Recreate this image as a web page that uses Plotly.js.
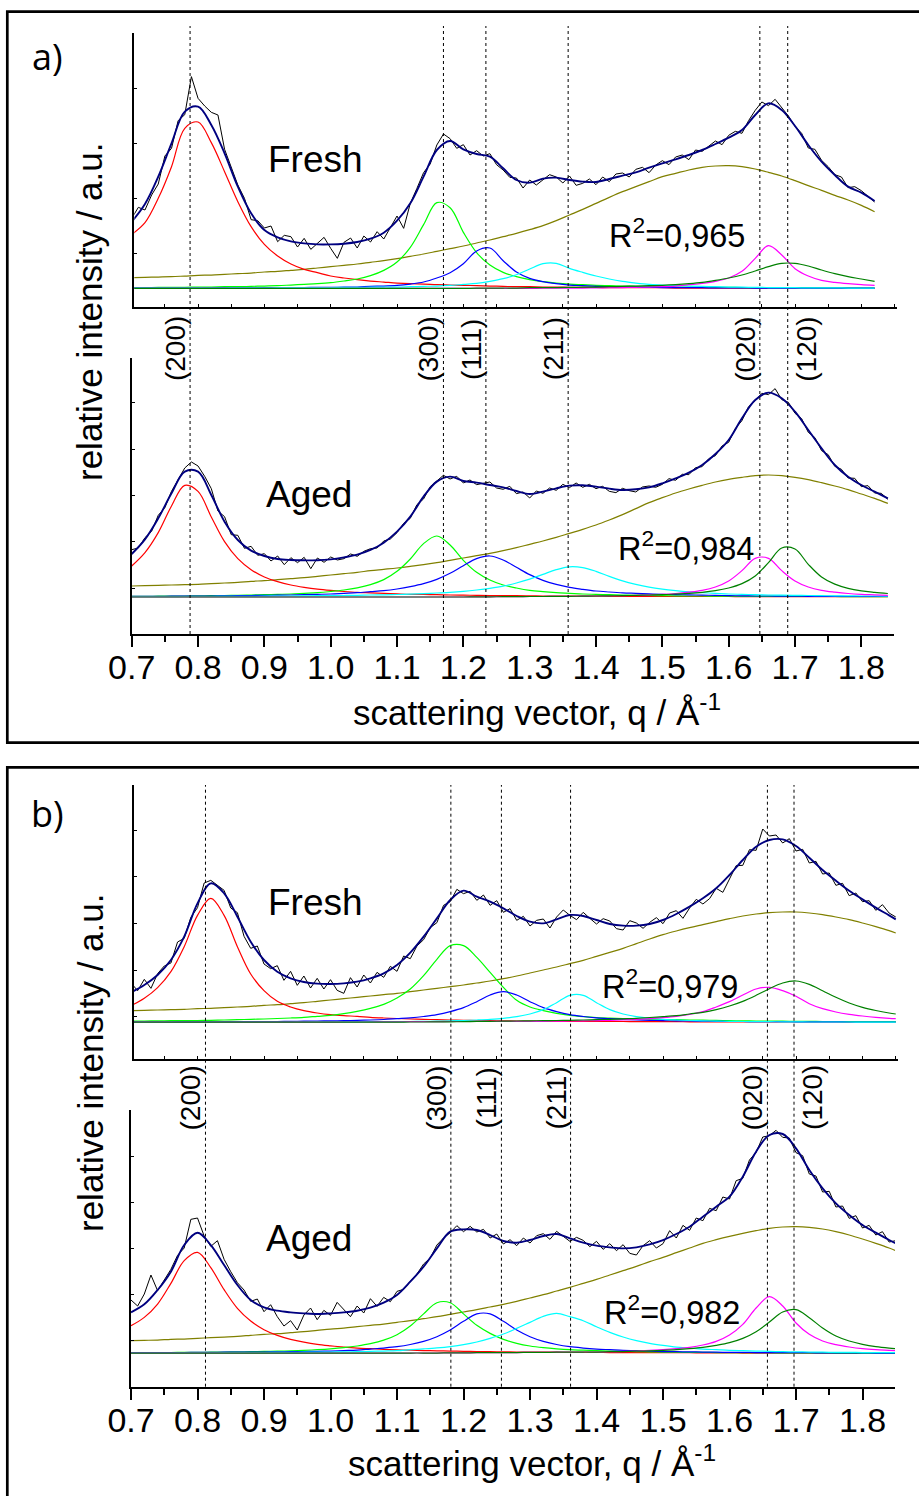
<!DOCTYPE html>
<html><head><meta charset="utf-8">
<script src="https://cdn.plot.ly/plotly-3.0.1.min.js"></script>
<style>html,body{margin:0;padding:0;background:#fff;}#chart{width:919px;height:1496px;}</style>
</head><body><div id="chart"></div>
<script>
// ---------- x grids ----------
const Q_FIT = [0.70,0.72,0.74,0.76,0.78,0.80,0.82,0.84,0.86,0.88,0.90,0.92,0.94,0.96,0.98,1.00,1.02,1.04,1.06,1.08,1.10,1.12,1.14,1.16,1.18,1.20,1.22,1.24,1.26,1.28,1.30,1.32,1.34,1.36,1.38,1.40,1.42,1.44,1.46,1.48,1.50,1.52,1.54,1.56,1.58,1.60,1.62,1.64,1.66,1.68,1.70,1.72,1.74,1.76,1.78,1.80,1.82,1.84,1.85];
const Q_DATA = [0.70,0.71,0.72,0.73,0.74,0.75,0.76,0.77,0.78,0.79,0.80,0.81,0.82,0.83,0.84,0.85,0.86,0.87,0.88,0.89,0.90,0.91,0.92,0.93,0.94,0.95,0.96,0.97,0.98,0.99,1.00,1.01,1.02,1.03,1.04,1.05,1.06,1.07,1.08,1.09,1.10,1.11,1.12,1.13,1.14,1.15,1.16,1.17,1.18,1.19,1.20,1.21,1.22,1.23,1.24,1.25,1.26,1.27,1.28,1.29,1.30,1.31,1.32,1.33,1.34,1.35,1.36,1.37,1.38,1.39,1.40,1.41,1.42,1.43,1.44,1.45,1.46,1.47,1.48,1.49,1.50,1.51,1.52,1.53,1.54,1.55,1.56,1.57,1.58,1.59,1.60,1.61,1.62,1.63,1.64,1.65,1.66,1.67,1.68,1.69,1.70,1.71,1.72,1.73,1.74,1.75,1.76,1.77,1.78,1.79,1.80,1.81,1.82,1.83,1.84,1.85];

// ---------- panel a, Fresh ----------
const aFreshData = [26.5,29.8,29.0,33.5,36.8,45.2,47.5,55.8,57.6,69.0,
62.5,60.2,58.3,57.5,47.2,41.8,36.5,32.5,26.1,25.8,
23.6,24.2,19.5,21.4,21.0,17.9,20.5,17.2,19.1,20.8,
17.5,14.5,19.3,20.6,17.6,21.2,19.4,22.5,20.3,23.8,
27.2,23.5,31.0,35.5,40.2,42.8,48.5,51.8,50.4,47.5,
48.6,45.5,46.8,45.2,45.9,42.6,41.0,38.8,38.6,35.6,
38.0,36.5,38.1,39.6,38.9,37.1,39.2,36.4,37.0,38.3,
36.6,38.9,37.5,39.8,40.1,38.9,41.2,41.8,40.2,42.5,
43.8,42.6,44.9,45.5,44.1,47.0,46.6,48.2,49.7,48.6,
51.4,52.6,52.0,55.8,58.9,61.4,60.3,62.2,59.6,57.2,
54.1,52.0,47.6,47.2,43.9,42.0,39.6,38.9,35.7,36.0,
34.8,33.1,31.4];
const aFreshFit = [25.5,30.8,39.0,49.0,58.5,60.0,54.5,46.0,36.0,28.0,
23.0,20.8,19.6,19.0,18.7,18.7,18.9,19.4,20.4,22.2,
25.8,31.0,39.0,47.0,49.7,47.2,45.8,45.0,41.5,38.0,
37.2,38.4,38.7,38.0,37.5,37.4,38.3,39.3,40.3,41.7,
43.0,44.2,45.5,47.0,48.8,50.7,53.0,57.5,61.0,59.0,
54.2,48.5,43.5,39.5,36.0,34.2,31.7];
const aFreshRed = [21.7,25.2,32.5,42.0,53.5,55.4,49.2,40.5,31.5,24.0,
18.7,15.2,12.8,11.2,10.2,9.2,8.6,8.1,7.7,7.4,
7.1,6.9,6.8,6.6,6.5,6.4,6.3,6.2,6.1,6.0,
6.0,5.9,5.9,5.8,5.8,5.8,5.7,5.7,5.7,5.7,
5.7,5.6,5.6,5.6,5.6,5.6,5.6,5.6,5.6,5.6,
5.6,5.6,5.6,5.6,5.6,5.6,5.6];
const aFreshGreen = [5.7,5.7,5.8,5.8,5.8,5.9,5.9,6.0,6.0,6.1,
6.2,6.3,6.5,6.7,6.9,7.2,7.7,8.3,9.3,10.9,
13.4,17.8,24.6,31.2,29.7,22.3,16.2,12.5,10.3,9.0,
8.1,7.5,7.1,6.8,6.6,6.4,6.3,6.2,6.1,6.0,
5.95,5.9,5.9,5.85,5.8,5.8,5.75,5.75,5.7,5.7,
5.7,5.7,5.65,5.65,5.6,5.6,5.6];
const aFreshBlue = [5.6,5.6,5.6,5.6,5.6,5.6,5.6,5.65,5.65,5.65,
5.7,5.7,5.75,5.75,5.8,5.8,5.85,5.9,6.1,6.2,
6.4,6.8,7.4,8.6,10.2,12.9,16.7,17.6,13.8,10.4,
8.5,7.5,6.9,6.5,6.3,6.1,6.0,5.9,5.85,5.8,
5.75,5.7,5.7,5.7,5.65,5.65,5.65,5.6,5.6,5.6,
5.6,5.6,5.6,5.6,5.6,5.6,5.6];
const aFreshCyan = [5.6,5.6,5.6,5.6,5.6,5.6,5.6,5.6,5.65,5.65,
5.65,5.7,5.7,5.7,5.75,5.75,5.8,5.8,5.85,5.9,
5.9,6.0,6.1,6.2,6.4,6.7,7.0,7.6,8.4,9.6,
11.3,12.9,13.0,11.5,10.3,9.2,8.3,7.6,7.1,6.7,
6.5,6.3,6.2,6.1,6.0,5.9,5.85,5.8,5.75,5.7,
5.7,5.65,5.65,5.65,5.6,5.6,5.6];
const aFreshMagenta = [5.5,5.5,5.5,5.5,5.5,5.5,5.5,5.5,5.5,5.5,
5.5,5.5,5.5,5.5,5.5,5.5,5.5,5.5,5.5,5.5,
5.5,5.5,5.5,5.5,5.5,5.5,5.5,5.5,5.5,5.5,
5.5,5.55,5.55,5.6,5.6,5.65,5.7,5.75,5.8,5.9,
6.0,6.2,6.6,7.0,7.6,8.6,10.6,14.5,18.3,15.5,
11.4,9.2,7.9,7.3,6.9,6.6,6.4];
const aFreshDkGreen = [5.5,5.5,5.5,5.5,5.5,5.5,5.5,5.5,5.5,5.5,
5.5,5.5,5.5,5.5,5.5,5.5,5.5,5.5,5.5,5.5,
5.5,5.5,5.5,5.5,5.5,5.5,5.55,5.55,5.6,5.6,
5.7,5.7,5.75,5.8,5.85,5.9,6.0,6.1,6.2,6.3,
6.4,6.6,6.9,7.3,7.9,8.6,9.5,10.7,12.0,13.0,
13.0,12.2,11.0,9.9,9.0,8.3,7.6];
const aFreshOlive = [8.7,8.8,8.9,9.0,9.2,9.4,9.5,9.7,9.9,10.1,
10.4,10.6,10.9,11.2,11.6,12.0,12.4,12.8,13.3,13.8,
14.4,15.1,15.8,16.6,17.4,18.2,19.1,20.0,21.0,22.0,
23.1,24.3,25.8,27.5,29.2,31.0,32.8,34.5,36.0,37.5,
39.0,40.0,41.0,41.8,42.2,42.3,42.0,41.3,40.3,39.2,
37.8,36.3,34.9,33.4,32.0,30.4,28.5];

// ---------- panel a, Aged ----------
const aAgedData = [25.3,25.8,28.9,30.8,35.6,37.9,42.8,46.5,49.8,51.6,
50.4,47.3,43.6,36.9,35.2,29.8,29.6,25.7,26.3,23.6,
24.1,21.9,23.4,20.8,22.9,21.4,23.0,19.6,22.8,21.5,
23.1,22.2,22.6,24.0,23.3,24.8,25.6,25.8,27.9,28.5,
30.4,33.2,34.7,38.8,40.5,44.2,45.9,47.6,46.5,47.3,
45.3,46.2,44.8,45.1,45.6,43.8,43.4,44.3,42.1,42.6,
40.8,42.9,42.2,43.8,43.1,44.9,43.9,45.3,44.0,44.9,
43.6,44.3,42.8,42.4,43.7,43.0,42.6,44.1,44.4,44.0,
44.9,46.6,46.1,47.9,47.8,49.9,50.2,52.6,53.5,56.4,
57.5,61.6,64.0,68.2,70.0,72.2,71.8,73.6,70.3,69.5,
66.2,64.6,60.5,58.9,55.0,53.8,50.3,49.4,46.8,46.7,
44.2,44.5,42.3,42.2,40.4];
const aAgedFit = [24.0,28.4,34.7,42.2,48.7,48.7,41.7,33.7,28.2,25.0,
23.4,22.5,22.2,22.1,22.1,22.4,23.0,23.8,25.2,27.4,
30.7,35.2,41.2,45.7,47.2,45.9,45.4,44.7,44.0,42.9,
42.0,42.7,43.7,44.5,44.6,44.2,43.6,43.2,43.4,44.0,
45.2,46.7,48.4,50.7,54.0,58.2,64.7,70.2,72.4,70.7,
66.7,61.2,55.7,50.7,47.2,44.7,42.7,40.7];
const aAgedRed = [20.4,24.4,30.4,38.4,44.6,42.8,35.1,27.7,22.6,19.3,
17.1,15.7,14.7,14.0,13.45,13.06,12.75,12.5,12.35,12.2,
12.05,11.9,11.85,11.8,11.7,11.65,11.6,11.55,11.5,11.5,
11.45,11.4,11.4,11.4,11.35,11.35,11.3,11.3,11.3,11.3,
11.3,11.25,11.25,11.25,11.25,11.25,11.2,11.2,11.2,11.2,
11.2,11.2,11.2,11.2,11.2,11.2,11.2,11.2];
const aAgedGreen = [11.3,11.3,11.35,11.4,11.4,11.45,11.5,11.55,11.6,11.7,
11.8,11.9,12.0,12.2,12.4,12.75,13.2,13.85,14.8,16.3,
18.8,22.5,27.1,29.4,26.7,22.1,18.5,16.2,14.7,13.8,
13.1,12.7,12.4,12.2,12.0,11.9,11.8,11.7,11.6,11.55,
11.5,11.45,11.4,11.4,11.35,11.35,11.3,11.3,11.3,11.3,
11.25,11.25,11.25,11.25,11.2,11.2,11.2,11.2];
const aAgedBlue = [11.3,11.3,11.3,11.35,11.35,11.4,11.4,11.45,11.5,11.55,
11.6,11.65,11.7,11.8,11.9,12.0,12.2,12.4,12.7,13.0,
13.5,14.2,15.1,16.4,18.2,20.5,22.6,23.4,22.2,20.0,
17.8,16.1,14.9,14.0,13.4,12.9,12.6,12.35,12.2,12.05,
11.9,11.8,11.75,11.65,11.6,11.5,11.45,11.4,11.4,11.35,
11.35,11.3,11.3,11.3,11.25,11.25,11.25,11.25];
const aAgedCyan = [11.2,11.2,11.2,11.2,11.25,11.25,11.25,11.3,11.3,11.3,
11.35,11.4,11.4,11.45,11.5,11.5,11.55,11.6,11.7,11.75,
11.85,11.95,12.1,12.3,12.5,12.8,13.2,13.7,14.35,15.3,
16.45,17.9,19.3,20.15,19.9,18.8,17.3,15.95,14.9,14.05,
13.45,13.0,12.65,12.4,12.2,12.0,11.9,11.8,11.7,11.65,
11.6,11.55,11.5,11.45,11.45,11.4,11.4,11.35];
const aAgedMagenta = [11.1,11.1,11.1,11.1,11.1,11.1,11.1,11.1,11.1,11.1,
11.1,11.1,11.1,11.1,11.1,11.1,11.1,11.1,11.1,11.1,
11.1,11.1,11.1,11.1,11.1,11.1,11.15,11.15,11.2,11.2,
11.25,11.25,11.3,11.3,11.35,11.4,11.45,11.5,11.6,11.75,
11.9,12.15,12.55,13.1,14.1,15.9,19.0,22.7,22.7,19.0,
15.9,14.1,13.1,12.55,12.15,11.9,11.75,11.6];
const aAgedDkGreen = [11.1,11.1,11.1,11.1,11.1,11.1,11.1,11.1,11.1,11.1,
11.1,11.1,11.1,11.1,11.1,11.1,11.1,11.1,11.1,11.1,
11.1,11.1,11.1,11.1,11.1,11.1,11.15,11.15,11.2,11.2,
11.25,11.25,11.3,11.3,11.35,11.4,11.45,11.5,11.6,11.7,
11.8,12.0,12.2,12.5,13.0,13.8,15.1,17.4,21.4,25.8,
25.5,20.9,17.1,14.95,13.7,12.95,12.5,12.15];
const aAgedOlive = [14.4,14.5,14.6,14.7,14.8,14.9,15.1,15.3,15.5,15.8,
16.0,16.3,16.6,16.9,17.3,17.7,18.1,18.5,19.0,19.4,
19.8,20.3,20.8,21.4,22.1,22.8,23.5,24.2,25.0,25.9,
26.9,27.9,29.0,30.2,31.4,32.7,34.2,35.8,37.6,39.4,
40.9,42.3,43.5,44.6,45.6,46.4,47.0,47.5,47.7,47.5,
47.0,46.3,45.4,44.4,43.3,42.0,40.7,39.2];

// ---------- panel b, Fresh ----------
const bFreshData = [22.8,20.5,23.9,21.2,25.6,27.9,28.8,35.1,36.2,42.5,
45.4,52.8,53.6,52.1,50.6,45.3,43.9,36.8,33.2,33.9,
28.5,27.1,28.0,23.6,26.3,22.1,24.9,21.3,24.2,21.0,
23.8,20.6,19.7,24.4,21.6,25.2,22.8,26.0,24.5,27.8,
26.3,30.9,30.1,33.9,35.8,39.4,40.9,46.1,47.2,50.9,
49.6,50.3,47.6,49.2,46.1,47.5,44.0,45.1,41.6,42.8,
39.9,41.6,42.0,39.3,42.6,44.7,43.1,41.8,44.0,42.2,
40.5,42.1,41.4,39.1,38.7,41.5,40.8,39.2,41.0,42.4,
40.6,43.8,44.5,42.2,45.3,47.9,46.5,48.1,51.2,50.0,
53.9,58.0,58.1,62.8,62.6,69.0,66.9,67.2,64.8,66.1,
62.4,62.9,58.8,59.3,55.5,55.8,52.1,52.7,49.0,49.8,
47.2,47.5,44.6,46.3,43.8,42.6];
const bFreshFit = [20.0,22.2,25.2,29.7,36.7,46.7,52.7,49.7,42.7,35.2,
29.7,26.2,24.2,23.1,22.6,22.5,22.7,23.2,24.2,25.7,
28.2,31.9,36.7,42.2,47.7,50.5,48.7,47.2,45.2,42.9,
41.2,40.7,41.9,43.2,42.9,41.7,40.5,40.0,40.0,40.5,
41.7,43.5,45.7,48.2,51.2,55.2,59.7,63.7,65.7,65.9,
63.9,60.4,56.7,53.5,50.5,47.9,45.4,43.1,41.9];
const bFreshRed = [16.0,18.2,21.4,26.2,33.7,43.1,48.2,43.1,33.7,25.5,
20.5,17.3,15.6,14.5,13.8,13.3,13.0,12.8,12.5,12.3,
12.15,12.0,11.9,11.8,11.7,11.6,11.55,11.5,11.45,11.4,
11.4,11.35,11.3,11.3,11.3,11.27,11.25,11.25,11.2,11.2,
11.2,11.2,11.15,11.15,11.15,11.15,11.1,11.1,11.1,11.1,
11.1,11.1,11.1,11.1,11.1,11.1,11.1,11.1,11.1];
const bFreshGreen = [11.35,11.4,11.45,11.5,11.5,11.55,11.6,11.7,11.8,11.9,
12.0,12.15,12.3,12.5,12.8,13.1,13.6,14.3,15.2,16.4,
18.3,21.0,25.0,29.9,34.0,34.0,30.5,26.0,21.5,17.6,
15.6,14.5,13.7,13.1,12.7,12.4,12.25,12.15,12.05,11.95,
11.85,11.8,11.7,11.65,11.6,11.5,11.45,11.4,11.4,11.35,
11.3,11.3,11.25,11.25,11.2,11.2,11.2,11.2,11.2];
const bFreshBlue = [11.1,11.1,11.1,11.1,11.15,11.15,11.15,11.2,11.2,11.2,
11.25,11.25,11.3,11.35,11.4,11.45,11.5,11.6,11.7,11.85,
12.1,12.35,12.75,13.3,14.2,15.4,17.2,19.2,20.2,19.2,
17.2,15.4,14.2,13.3,12.75,12.35,12.1,11.9,11.75,11.6,
11.5,11.45,11.4,11.35,11.3,11.25,11.25,11.2,11.2,11.2,
11.15,11.15,11.15,11.15,11.1,11.1,11.1,11.1,11.1];
const bFreshCyan = [11.0,11.0,11.0,11.05,11.05,11.05,11.05,11.05,11.1,11.1,
11.1,11.1,11.1,11.1,11.15,11.15,11.15,11.15,11.2,11.2,
11.2,11.25,11.3,11.35,11.45,11.55,11.7,11.9,12.2,12.7,
13.5,14.8,16.9,19.1,19.1,16.9,14.8,13.5,12.7,12.2,
11.9,11.7,11.55,11.45,11.35,11.3,11.25,11.2,11.2,11.15,
11.15,11.1,11.1,11.1,11.1,11.05,11.05,11.05,11.05];
const bFreshMagenta = [11.05,11.05,11.05,11.05,11.05,11.05,11.05,11.05,11.05,11.05,
11.05,11.05,11.05,11.05,11.05,11.05,11.1,11.1,11.1,11.15,
11.15,11.2,11.2,11.2,11.25,11.25,11.25,11.3,11.3,11.3,
11.3,11.3,11.35,11.4,11.45,11.5,11.6,11.75,11.9,12.1,
12.4,12.8,13.4,14.2,15.6,17.2,19.2,21.0,21.5,20.5,
18.8,16.6,15.1,14.1,13.4,12.9,12.5,12.2,12.1];
const bFreshDkGreen = [11.05,11.05,11.05,11.05,11.05,11.05,11.05,11.05,11.05,11.05,
11.05,11.05,11.05,11.05,11.05,11.05,11.05,11.05,11.05,11.05,
11.05,11.1,11.1,11.15,11.15,11.2,11.25,11.3,11.35,11.4,
11.45,11.5,11.55,11.6,11.7,11.8,11.9,12.05,12.2,12.45,
12.7,13.0,13.5,14.0,14.8,15.9,17.3,19.1,21.1,22.8,
23.4,22.4,20.5,18.5,16.8,15.5,14.55,13.8,13.5];
const bFreshOlive = [14.5,14.6,14.7,14.8,14.9,15.1,15.2,15.4,15.6,15.8,
16.1,16.3,16.6,16.9,17.3,17.7,18.1,18.5,18.9,19.3,
19.7,20.2,20.7,21.2,21.7,22.2,22.8,23.4,24.1,24.9,
25.8,26.7,27.6,28.6,29.6,30.8,32.0,33.2,34.6,36.0,
37.3,38.4,39.4,40.3,41.2,42.1,42.9,43.5,43.9,44.1,
44.1,43.8,43.3,42.6,41.8,40.8,39.7,38.5,37.8];

// ---------- panel b, Aged ----------
const bAgedData = [26.0,24.2,27.8,33.5,28.8,31.8,35.2,39.4,41.6,50.2,
50.6,45.2,42.1,43.8,38.2,34.5,31.2,29.0,25.6,26.3,
22.5,24.6,21.0,18.2,19.8,17.0,21.5,23.6,20.1,22.9,
21.4,25.3,23.2,21.0,24.2,22.1,26.4,24.1,26.8,25.5,
28.6,29.2,31.6,33.8,36.8,38.6,42.5,44.6,46.2,48.3,
46.5,48.1,46.4,47.2,44.6,45.8,42.8,44.1,42.3,44.6,
43.1,45.3,45.9,44.2,46.6,45.0,43.6,44.8,43.9,42.0,
43.6,41.2,42.9,40.8,42.6,40.0,39.5,42.3,43.8,41.6,
42.9,46.8,44.6,48.4,46.9,50.6,49.8,53.5,52.8,56.9,
56.3,61.8,62.5,68.0,70.3,74.9,75.3,76.9,74.8,74.6,
70.2,69.3,63.8,63.2,58.4,58.6,53.9,54.2,50.5,51.3,
47.6,48.4,45.5,46.5,43.4,43.8];
const bAgedFit = [22.3,24.7,29.0,34.5,42.5,46.2,42.5,36.5,30.5,26.0,
23.8,22.8,22.3,22.0,21.8,22.0,22.3,22.8,23.7,25.2,
27.5,31.5,36.0,41.5,46.5,47.2,47.0,45.5,43.7,43.2,
44.0,45.2,45.8,44.5,43.2,42.3,41.8,41.5,41.8,42.7,
44.0,45.8,48.0,51.0,54.0,57.0,63.0,70.5,75.5,75.8,
71.5,65.0,59.5,55.0,51.5,48.5,46.2,44.0,43.0];
const bAgedRed = [18.3,20.8,24.8,31.0,37.8,40.3,35.7,29.1,23.5,19.7,
17.1,15.4,14.2,13.35,12.7,12.26,11.9,11.6,11.4,11.2,
11.05,10.95,10.85,10.75,10.7,10.6,10.55,10.5,10.45,10.4,
10.4,10.35,10.35,10.3,10.3,10.28,10.25,10.25,10.2,10.2,
10.2,10.2,10.18,10.16,10.16,10.16,10.1,10.1,10.1,10.1,
10.1,10.1,10.1,10.1,10.1,10.1,10.1,10.1,10.1];
const bAgedGreen = [10.2,10.2,10.25,10.25,10.3,10.3,10.35,10.4,10.45,10.5,
10.6,10.65,10.75,10.9,11.1,11.35,11.7,12.2,12.9,13.95,
15.6,18.2,21.85,25.2,25.2,21.85,18.4,16.0,14.2,13.0,
12.2,11.7,11.35,11.1,10.95,10.8,10.7,10.6,10.55,10.45,
10.4,10.35,10.3,10.3,10.25,10.25,10.2,10.2,10.2,10.15,
10.15,10.15,10.15,10.1,10.1,10.1,10.1,10.1,10.1];
const bAgedBlue = [10.2,10.2,10.2,10.25,10.25,10.3,10.3,10.35,10.35,10.4,
10.4,10.45,10.5,10.55,10.6,10.7,10.85,11.0,11.3,11.6,
12.0,12.65,13.6,15.0,17.0,19.6,21.85,21.85,19.6,17.0,
15.0,13.6,12.65,12.0,11.6,11.3,11.1,10.9,10.8,10.65,
10.55,10.5,10.45,10.4,10.35,10.3,10.3,10.25,10.25,10.2,
10.2,10.2,10.15,10.15,10.15,10.15,10.1,10.1,10.1];
const bAgedCyan = [10.1,10.1,10.1,10.1,10.15,10.15,10.15,10.2,10.2,10.25,
10.25,10.3,10.3,10.35,10.4,10.4,10.45,10.5,10.6,10.7,
10.8,11.1,11.35,11.65,12.05,12.6,13.4,14.5,15.8,17.5,
19.3,21.1,22.0,21.0,19.8,18.0,16.3,14.9,13.8,13.0,
12.4,11.9,11.6,11.3,11.1,10.9,10.8,10.7,10.6,10.5,
10.45,10.4,10.35,10.3,10.3,10.25,10.25,10.2,10.2];
const bAgedMagenta = [10.05,10.05,10.05,10.05,10.05,10.05,10.05,10.05,10.05,10.05,
10.05,10.05,10.05,10.05,10.05,10.05,10.05,10.05,10.05,10.05,
10.05,10.1,10.1,10.1,10.15,10.15,10.2,10.2,10.25,10.25,
10.3,10.3,10.35,10.35,10.4,10.4,10.5,10.6,10.7,10.9,
11.1,11.4,11.8,12.5,13.6,15.5,18.7,23.6,27.0,24.2,
19.1,15.7,13.7,12.6,11.9,11.4,11.1,10.9,10.8];
const bAgedDkGreen = [10.05,10.05,10.05,10.05,10.05,10.05,10.05,10.05,10.05,10.05,
10.05,10.05,10.05,10.05,10.05,10.05,10.05,10.05,10.05,10.05,
10.05,10.1,10.1,10.1,10.15,10.15,10.2,10.2,10.25,10.25,
10.3,10.3,10.35,10.35,10.4,10.4,10.5,10.55,10.65,10.75,
10.9,11.1,11.4,11.8,12.4,13.2,14.5,16.5,19.4,22.4,
23.1,20.7,17.6,15.2,13.7,12.7,12.0,11.55,11.4];
const bAgedOlive = [13.8,13.9,14.0,14.2,14.3,14.5,14.7,14.9,15.1,15.4,
15.7,15.9,16.2,16.5,16.9,17.3,17.6,18.0,18.4,18.8,
19.3,19.8,20.4,21.0,21.7,22.4,23.1,23.9,24.7,25.6,
26.6,27.6,28.7,29.8,31.0,32.2,33.5,34.8,36.1,37.5,
38.8,40.2,41.6,43.0,44.1,45.1,46.0,46.8,47.5,47.9,
48.0,47.8,47.3,46.5,45.5,44.3,43.0,41.6,40.8];

// ---------- labels ----------
const PEAK_LABELS = ['(200)','(300)','(111)','(211)','(020)','(120)'];
const PEAKS_A = [0.788,1.170,1.234,1.358,1.647,1.689];
const PEAKS_B = [0.812,1.181,1.257,1.361,1.657,1.697];
const PANEL_LABELS = ['a)','b)'];
const SAMPLE_LABELS = ['Fresh','Aged','Fresh','Aged'];
const R2_VALUES = ['0,965','0,984','0,979','0,982'];
const X_TICK_VALUES = [0.7,0.8,0.9,1.0,1.1,1.2,1.3,1.4,1.5,1.6,1.7,1.8];
const X_TITLE = 'scattering vector, q / Å<sup>-1</sup>';
const Y_TITLE = 'relative intensity / a.u.';

// ---------- layout helpers ----------
const W = 919, H = 1496;
const PX = v => v / W;
const PY = v => 1 - v / H;
const FONT = 'Liberation Sans';

const COLORS = {red:'#ff0000', green:'#00ff00', blue:'#0000ff', cyan:'#00ffff', magenta:'#ff00ff', dkgreen:'#008000', olive:'#808000', data:'#000000', fit:'#000080'};

const subplots = [
  {xa:'x',  ya:'y',  data:aFreshData, fit:aFreshFit, red:aFreshRed, green:aFreshGreen, blue:aFreshBlue, cyan:aFreshCyan, magenta:aFreshMagenta, dkgreen:aFreshDkGreen, olive:aFreshOlive},
  {xa:'x2', ya:'y2', data:aAgedData,  fit:aAgedFit,  red:aAgedRed,  green:aAgedGreen,  blue:aAgedBlue,  cyan:aAgedCyan,  magenta:aAgedMagenta,  dkgreen:aAgedDkGreen,  olive:aAgedOlive},
  {xa:'x3', ya:'y3', data:bFreshData, fit:bFreshFit, red:bFreshRed, green:bFreshGreen, blue:bFreshBlue, cyan:bFreshCyan, magenta:bFreshMagenta, dkgreen:bFreshDkGreen, olive:bFreshOlive},
  {xa:'x4', ya:'y4', data:bAgedData,  fit:bAgedFit,  red:bAgedRed,  green:bAgedGreen,  blue:bAgedBlue,  cyan:bAgedCyan,  magenta:bAgedMagenta,  dkgreen:bAgedDkGreen,  olive:bAgedOlive}
];

const traces = [];
subplots.forEach(sp => {
  ['olive','red','green','blue','cyan','magenta','dkgreen'].forEach(k => {
    const ys = sp[k];
    traces.push({type:'scatter', mode:'lines', x:Q_FIT.slice(0, ys.length), y:ys, xaxis:sp.xa, yaxis:sp.ya,
      line:{color:COLORS[k], width:1.2, shape:'spline', smoothing:1}, hoverinfo:'skip'});
  });
  traces.push({type:'scatter', mode:'lines', x:Q_DATA.slice(0, sp.data.length), y:sp.data, xaxis:sp.xa, yaxis:sp.ya,
    line:{color:COLORS.data, width:1}, hoverinfo:'skip'});
  traces.push({type:'scatter', mode:'lines', x:Q_FIT.slice(0, sp.fit.length), y:sp.fit, xaxis:sp.xa, yaxis:sp.ya,
    line:{color:COLORS.fit, width:1.9, shape:'spline', smoothing:1}, hoverinfo:'skip'});
});

const axBase = {showgrid:false, zeroline:false, showline:true, linecolor:'#000', linewidth:2, tickcolor:'#000', fixedrange:true};
const topX = (d0, d1, r0, r1, anchor) => Object.assign({}, axBase, {domain:[PX(d0), PX(d1)], range:[r0, r1], anchor:anchor,
  ticks:'inside', ticklen:3, tickwidth:1, tick0:0.7, dtick:0.05, showticklabels:false});
const botX = (d0, d1, r0, r1, anchor) => Object.assign({}, axBase, {domain:[PX(d0), PX(d1)], range:[r0, r1], anchor:anchor,
  ticks:'outside', ticklen:11, tickwidth:2, tickmode:'array', tickvals:X_TICK_VALUES, ticktext:X_TICK_VALUES.map(v => v.toFixed(1)),
  tickfont:{family:FONT, size:34, color:'#000'}, ticklabelstandoff:-9,
  minor:{ticks:'outside', ticklen:6, tickwidth:2, tickcolor:'#000', tick0:0.75, dtick:0.1, showgrid:false}});
const yAx = (b, t, rmax, tick0, dtick, anchor) => Object.assign({}, axBase, {domain:[PY(b), PY(t)], range:[0, rmax], anchor:anchor,
  ticks:'inside', ticklen:3, tickwidth:1, tick0:tick0, dtick:dtick, showticklabels:false});

const shapes = [];
PEAKS_A.forEach(q => shapes.push({type:'line', xref:'x2', yref:'paper', x0:q, x1:q, y0:PY(634), y1:PY(26), line:{color:'#000', width:1, dash:'3px,3px'}}));
PEAKS_B.forEach(q => shapes.push({type:'line', xref:'x4', yref:'paper', x0:q, x1:q, y0:PY(1386.7), y1:PY(785), line:{color:'#000', width:1, dash:'3px,3px'}}));
shapes.push({type:'rect', xref:'paper', yref:'paper', x0:PX(7.3), x1:1.02, y0:PY(742.7), y1:PY(11.7), line:{color:'#000', width:2.7}, fillcolor:'rgba(0,0,0,0)'});
shapes.push({type:'rect', xref:'paper', yref:'paper', x0:PX(7.3), x1:1.02, y0:-0.02, y1:PY(767.3), line:{color:'#000', width:2.7}, fillcolor:'rgba(0,0,0,0)'});

const ann = [];
const txt = (text, x, y, size, extra) => Object.assign({text:text, x:PX(x), y:PY(y), xref:'paper', yref:'paper', showarrow:false,
  xanchor:'center', yanchor:'middle', font:{family:FONT, size:size, color:'#000'}}, extra || {});
ann.push(txt(PANEL_LABELS[0], 47, 57, 36, {font:{family:'Open Sans', size:36, color:'#000'}}));
ann.push(txt(PANEL_LABELS[1], 47, 813, 36, {font:{family:'Open Sans', size:36, color:'#000'}}));
const sampleY = [160, 494, 902, 1238];
const sampleX = [315, 309, 315, 309];
SAMPLE_LABELS.forEach((s, i) => ann.push(txt(s, sampleX[i], sampleY[i], 37)));
const r2X = [677, 686, 670, 672];
const r2Y = [233, 546, 984, 1310];
R2_VALUES.forEach((v, i) => ann.push(txt('R<sup>2</sup>=' + v, r2X[i], r2Y[i], 32.5)));
ann.push(txt(Y_TITLE, 90, 312, 35, {textangle:-90}));
ann.push(txt(Y_TITLE, 90, 1063, 35, {textangle:-90}));
ann.push(txt(X_TITLE, 537, 710, 35));
ann.push(txt(X_TITLE, 532, 1461, 35));
const labelShift = i => (i === 5 ? 18 : -15);
PEAKS_A.forEach((q, i) => ann.push({text:PEAK_LABELS[i], x:q, y:PY(349), xref:'x2', yref:'paper', xshift:labelShift(i), showarrow:false,
  textangle:-90, xanchor:'center', yanchor:'middle', font:{family:FONT, size:28, color:'#000'}}));
PEAKS_B.forEach((q, i) => ann.push({text:PEAK_LABELS[i], x:q, y:PY(1098), xref:'x4', yref:'paper', xshift:labelShift(i), showarrow:false,
  textangle:-90, xanchor:'center', yanchor:'middle', font:{family:FONT, size:28, color:'#000'}}));

const layout = {
  width:W, height:H, margin:{l:0, r:0, t:0, b:0}, paper_bgcolor:'#fff', plot_bgcolor:'rgba(0,0,0,0)', showlegend:false,
  font:{family:FONT, color:'#000'},
  xaxis: topX(134.3, 896.7, 0.7039, 1.8533, 'y'),
  yaxis: yAx(306.7, 33.3, 82, 16, 16.5, 'x'),
  xaxis2: botX(131.7, 894.3, 0.7, 1.8497, 'y2'),
  yaxis2: yAx(634, 358.3, 82.7, 13.7, 13.9, 'x2'),
  xaxis3: topX(133.7, 897.7, 0.70406, 1.85293, 'y3'),
  yaxis3: yAx(1059, 785, 82.2, 12.7, 14, 'x3'),
  xaxis4: botX(131, 895, 0.7, 1.84887, 'y4'),
  yaxis4: yAx(1386.7, 1110, 83, 14, 13.8, 'x4'),
  shapes:shapes, annotations:ann
};
Plotly.newPlot('chart', traces, layout, {staticPlot:true, displayModeBar:false});
</script></body></html>
